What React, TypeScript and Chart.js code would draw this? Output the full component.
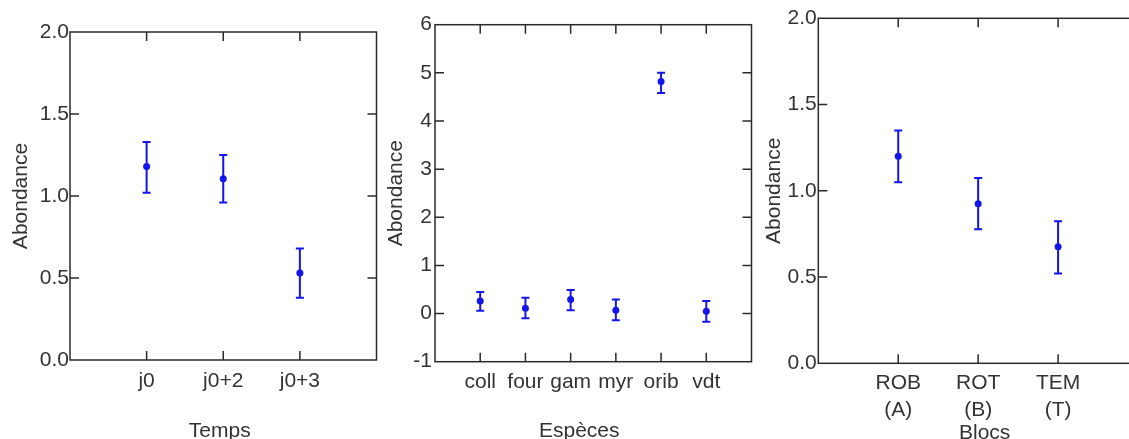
import React, { useEffect, useRef } from "react";
import { Chart, registerables } from "chart.js";

Chart.register(...registerables);

// ---------- data ----------
const tempsLabels = ["j0", "j0+2", "j0+3"];
const tempsMean = [1.18, 1.105, 0.53];
const tempsLow = [1.02, 0.96, 0.38];
const tempsHigh = [1.33, 1.25, 0.68];

const especesLabels = ["coll", "four", "gam", "myr", "orib", "vdt"];
const especesMean = [0.26, 0.11, 0.29, 0.07, 4.82, 0.05];
const especesLow = [0.06, -0.1, 0.07, -0.14, 4.58, -0.17];
const especesHigh = [0.45, 0.33, 0.49, 0.29, 5.0, 0.26];

const blocsLabels = [["ROB", "(A)"], ["ROT", "(B)"], ["TEM", "(T)"]];
const blocsMean = [1.2, 0.925, 0.676];
const blocsLow = [1.05, 0.777, 0.52];
const blocsHigh = [1.35, 1.074, 0.823];

const yTitle = "Abondance";
const xTitles = ["Temps", "Espèces", "Blocs"];

// ---------- styles ----------
const BLUE = "rgb(20,20,235)";
const INK = "#2a2a2a";
const TEXT = "#333333";
const FONT_FAMILY = "'Liberation Sans', Arial, sans-serif";
const FONT_SIZE = 21;
const CANVAS_H = 460;

type PanelSpec = {
  labels: (string | string[])[];
  mean: number[];
  low: number[];
  high: number[];
  yMin: number;
  yMax: number;
  yStep: number;
  yDecimals: number;
  xTitle: string;
  canvasLeft: number;
  canvasWidth: number;
  area: { left: number; top: number; right: number; bottom: number };
  yTitlePad: number;
  yTickPad: number;
  xTickPad: number;
  xTitleY: number;
  xTitleShift: number;
  xTickLineHeight: number;
};

const errorBarPlugin = (low: number[], high: number[]) => ({
  id: "errorBars",
  beforeDatasetsDraw(chart: any) {
    const { ctx, scales } = chart;
    const x = scales.x;
    const y = scales.y;
    ctx.save();
    ctx.strokeStyle = BLUE;
    ctx.lineWidth = 2;
    ctx.beginPath();
    low.forEach((lo, i) => {
      const px = x.getPixelForValue(i + 1);
      const y1 = y.getPixelForValue(lo);
      const y2 = y.getPixelForValue(high[i]);
      ctx.moveTo(px, y1);
      ctx.lineTo(px, y2);
      ctx.moveTo(px - 4, y1);
      ctx.lineTo(px + 4, y1);
      ctx.moveTo(px - 4, y2);
      ctx.lineTo(px + 4, y2);
    });
    ctx.stroke();
    ctx.restore();
  },
});

const framePlugin = {
  id: "frame",
  afterDraw(chart: any) {
    const { ctx, chartArea, scales } = chart;
    const { left, right, top, bottom } = chartArea;
    const x = scales.x;
    const y = scales.y;
    const len = 9;
    ctx.save();
    ctx.strokeStyle = INK;
    ctx.lineWidth = 1.5;
    ctx.strokeRect(left, top, right - left, bottom - top);
    ctx.beginPath();
    x.ticks.forEach((t: any) => {
      if (t.value <= x.min || t.value >= x.max) return;
      const p = x.getPixelForValue(t.value);
      ctx.moveTo(p, bottom);
      ctx.lineTo(p, bottom - len);
      ctx.moveTo(p, top);
      ctx.lineTo(p, top + len);
    });
    y.ticks.forEach((t: any) => {
      if (t.value <= y.min || t.value >= y.max) return;
      const p = y.getPixelForValue(t.value);
      ctx.moveTo(left, p);
      ctx.lineTo(left + len, p);
      ctx.moveTo(right, p);
      ctx.lineTo(right - len, p);
    });
    ctx.stroke();
    ctx.restore();
  },
};

// x-axis title, drawn below the tick labels, centred near the chart area
const xTitlePlugin = (text: string, yPos: number, shift: number) => ({
  id: "xTitle",
  afterDraw(chart: any) {
    const { ctx, chartArea } = chart;
    ctx.save();
    ctx.fillStyle = TEXT;
    ctx.font = `${FONT_SIZE}px ${FONT_FAMILY}`;
    ctx.textAlign = "center";
    ctx.textBaseline = "middle";
    ctx.fillText(text, (chartArea.left + chartArea.right) / 2 + shift, yPos);
    ctx.restore();
  },
});

function Panel({ spec }: { spec: PanelSpec }) {
  const ref = useRef<HTMLCanvasElement | null>(null);
  useEffect(() => {
    if (!ref.current) return;
    const s = spec;
    const n = s.labels.length;
    const font = { family: FONT_FAMILY, size: FONT_SIZE };
    const chart = new Chart(ref.current, {
      type: "scatter",
      data: {
        datasets: [
          {
            data: s.mean.map((v, i) => ({ x: i + 1, y: v })),
            pointRadius: 3.5,
            pointHoverRadius: 3.5,
            pointBackgroundColor: BLUE,
            pointBorderWidth: 0,
            showLine: false,
          },
        ],
      },
      options: {
        animation: false,
        responsive: false,
        devicePixelRatio: 1,
        events: [],
        layout: {
          padding: {
            left: 0,
            top: s.area.top,
            right: s.canvasWidth - s.area.right,
            bottom: 0,
          },
        },
        plugins: {
          legend: { display: false },
          tooltip: { enabled: false },
        },
        scales: {
          x: {
            type: "linear",
            min: 0,
            max: n + 1,
            grid: { display: false, drawTicks: false },
            border: { display: false },
            ticks: {
              stepSize: 1,
              autoSkip: false,
              maxRotation: 0,
              minRotation: 0,
              padding: s.xTickPad,
              color: TEXT,
              font: { ...font, lineHeight: s.xTickLineHeight },
              callback: (v: any) => {
                const lab = s.labels[Number(v) - 1];
                return lab === undefined ? "" : lab;
              },
            },
            title: { display: false, text: s.xTitle },
            afterFit: (sc: any) => {
              sc.height = CANVAS_H - s.area.bottom;
              sc.paddingLeft = 0;
              sc.paddingRight = 0;
            },
          },
          y: {
            min: s.yMin,
            max: s.yMax,
            grid: { display: false, drawTicks: false },
            border: { display: false },
            ticks: {
              stepSize: s.yStep,
              padding: s.yTickPad,
              color: TEXT,
              font,
              callback: (v: any) => Number(v).toFixed(s.yDecimals),
            },
            title: {
              display: true,
              text: yTitle,
              color: TEXT,
              font,
              padding: { top: s.yTitlePad, bottom: 0 },
            },
            afterFit: (sc: any) => {
              sc.width = s.area.left - s.canvasLeft;
              sc.paddingTop = 0;
              sc.paddingBottom = 0;
            },
          },
        },
      } as any,
      plugins: [
        errorBarPlugin(s.low, s.high),
        framePlugin,
        xTitlePlugin(s.xTitle, s.xTitleY, s.xTitleShift),
      ],
    });
    return () => chart.destroy();
  }, [spec]);
  return (
    <canvas
      ref={ref}
      width={spec.canvasWidth}
      height={CANVAS_H}
      style={{
        position: "absolute",
        left: spec.canvasLeft,
        top: 0,
        width: spec.canvasWidth,
        height: CANVAS_H,
        display: "block",
      }}
    />
  );
}

const panels: PanelSpec[] = [
  {
    labels: tempsLabels,
    mean: tempsMean,
    low: tempsLow,
    high: tempsHigh,
    yMin: 0,
    yMax: 2,
    yStep: 0.5,
    yDecimals: 1,
    xTitle: xTitles[0],
    canvasLeft: 0,
    canvasWidth: 380,
    area: { left: 70, top: 32, right: 377, bottom: 360 },
    yTitlePad: 8.9,
    yTickPad: 1,
    xTickPad: 8.4,
    xTitleY: 431,
    xTitleShift: -3.5,
    xTickLineHeight: 1.2,
  },
  {
    labels: especesLabels,
    mean: especesMean,
    low: especesLow,
    high: especesHigh,
    yMin: -1,
    yMax: 6,
    yStep: 1,
    yDecimals: 0,
    xTitle: xTitles[1],
    canvasLeft: 380,
    canvasWidth: 375,
    area: { left: 435, top: 24.7, right: 751.7, bottom: 361.7 },
    yTitlePad: 4.1,
    yTickPad: 3,
    xTickPad: 7.7,
    xTitleY: 431,
    xTitleShift: -14,
    xTickLineHeight: 1.2,
  },
  {
    labels: blocsLabels,
    mean: blocsMean,
    low: blocsLow,
    high: blocsHigh,
    yMin: 0,
    yMax: 2,
    yStep: 0.5,
    yDecimals: 1,
    xTitle: xTitles[2],
    canvasLeft: 755,
    canvasWidth: 387,
    area: { left: 818.3, top: 18.3, right: 1138, bottom: 363.3 },
    yTitlePad: 6.7,
    yTickPad: 1.6,
    xTickPad: 7.1,
    xTitleY: 433,
    xTitleShift: 6.5,
    xTickLineHeight: 1.25,
  },
];

// area coordinates above are page coordinates; convert to canvas-local values
const localPanels: PanelSpec[] = panels.map((p) => ({
  ...p,
  area: {
    left: p.area.left,
    top: p.area.top,
    right: p.area.right - p.canvasLeft,
    bottom: p.area.bottom,
  },
}));

export default function App() {
  return (
    <div
      style={{
        position: "fixed",
        left: 0,
        top: 0,
        width: 1129,
        height: 439,
        overflow: "hidden",
        background: "#ffffff",
      }}
    >
      {localPanels.map((p, i) => (
        <Panel key={i} spec={p} />
      ))}
    </div>
  );
}
